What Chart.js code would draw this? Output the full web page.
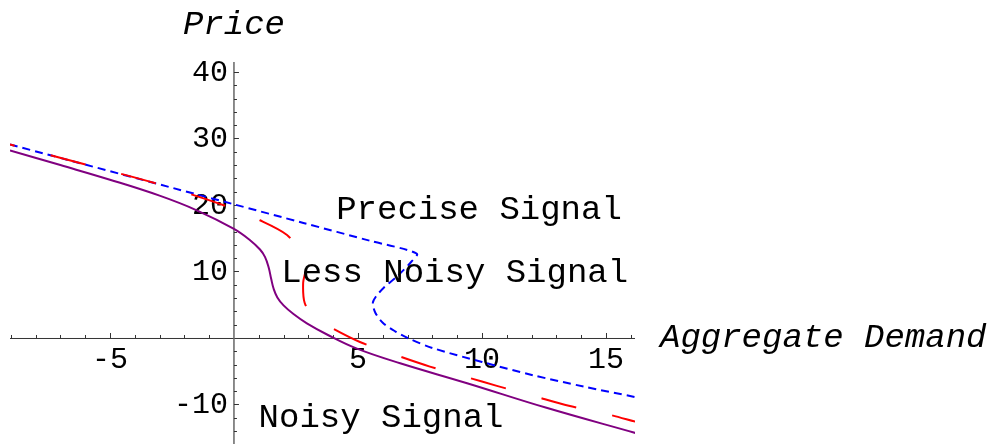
<!DOCTYPE html>
<html>
<head>
<meta charset="utf-8">
<script src="https://cdn.jsdelivr.net/npm/chart.js@4/dist/chart.umd.min.js"></script>
<style>
  body { margin: 0; background: #fff; }
  #wrap { width: 987px; height: 444px; }
</style>
</head>
<body>
<div id="wrap"><canvas id="grafico"></canvas></div>
<script>
// demand (x) and price (y)
const noisyX = [-9.03, -7, -5, -3, -1.5, 0, 0.65, 1.05, 1.25, 1.4, 1.5, 1.6, 1.75, 2.0, 2.4, 2.94, 3.79, 4.96, 6.7, 9.4, 12.6, 16.2];
const noisyY = [28.2, 26.0, 23.8, 21.4, 19.2, 16.4, 14.7, 13.3, 12.2, 10.6, 8.9, 7.4, 6.1, 4.9, 3.6, 2.2, 0.45, -1.6, -3.8, -6.8, -10.5, -14.3];

const lessX = [-9.03, -5.9, -3.2, -0.44, 1.05, 2.14, 2.6, 2.9, 2.79, 2.85, 3.2, 3.95, 5.08, 6.7, 7.9, 9.4, 10.6, 12.06, 13.5, 15.0, 16.2];
const lessY = [29.1, 26.0, 23.3, 20.0, 17.7, 15.5, 13.1, 10.8, 8.3, 5.3, 3.2, 1.5, -0.6, -2.8, -4.3, -5.9, -7.2, -8.7, -10.2, -11.4, -12.6];

const preciseX = [-9.03, 0, 2.8, 5.5, 7.37, 7.16, 6.56, 6.05, 5.72, 5.6, 5.7, 6.0, 6.5, 7.0, 8.0, 10.0, 12.06, 14.1, 16.2];
const preciseY = [29.1, 20.1, 17.3, 14.6, 12.7, 11.5, 9.2, 7.6, 6.2, 5.3, 3.8, 2.3, 1.0, 0.0, -1.5, -3.6, -5.6, -7.3, -8.9];

const xTickLabels = [-5, 5, 10, 15];
const yTickLabels = [-10, 10, 20, 30, 40];

const curveLabels = ['Noisy Signal', 'Less Noisy Signal', 'Precise Signal'];
const labelX = [5.93, 8.9, 9.88];
const labelY = [-12.0, 9.8, 19.25];

function pts(xs, ys) {
    return xs.map(function(x, i) { return { x: x, y: ys[i] }; });
}

const fonte = "'Liberation Mono', 'DejaVu Sans Mono', monospace";

const eixos = {
    id: 'eixos',
    beforeDatasetsDraw: function(chart) {
        const ctx = chart.ctx;
        const sx = chart.scales.x, sy = chart.scales.y;
        const x0 = sx.getPixelForValue(0), y0 = sy.getPixelForValue(0);
        ctx.save();
        // x axis
        ctx.strokeStyle = '#333';
        ctx.lineWidth = 1;
        ctx.beginPath();
        ctx.moveTo(sx.left, y0 + 0.5);
        ctx.lineTo(sx.right, y0 + 0.5);
        ctx.stroke();
        for (let v = -9; v <= 16; v++) {
            if (v === 0) continue;
            const px = Math.round(sx.getPixelForValue(v)) + 0.5;
            const len = v % 5 === 0 ? 5 : 3;
            ctx.beginPath();
            ctx.moveTo(px, y0);
            ctx.lineTo(px, y0 - len);
            ctx.stroke();
        }
        // y axis
        ctx.strokeStyle = '#666';
        ctx.lineWidth = 1.5;
        ctx.beginPath();
        ctx.moveTo(x0, sy.top);
        ctx.lineTo(x0, sy.bottom);
        ctx.stroke();
        ctx.lineWidth = 1;
        ctx.strokeStyle = '#333';
        for (let v = -14; v <= 40; v += 2) {
            if (v === 0) continue;
            const py = Math.round(sy.getPixelForValue(v)) + 0.5;
            const len = v % 10 === 0 ? 5 : 3;
            ctx.beginPath();
            ctx.moveTo(x0, py);
            ctx.lineTo(x0 + len, py);
            ctx.stroke();
        }
        // tick labels
        ctx.fillStyle = '#000';
        ctx.font = '30px ' + fonte;
        ctx.textAlign = 'center';
        ctx.textBaseline = 'middle';
        xTickLabels.forEach(function(v) {
            ctx.fillText(String(v), sx.getPixelForValue(v), y0 + 22);
        });
        ctx.textAlign = 'right';
        yTickLabels.forEach(function(v) {
            ctx.fillText(String(v), x0 - 6, sy.getPixelForValue(v) + 1);
        });
        ctx.restore();
    },
    afterDatasetsDraw: function(chart) {
        const ctx = chart.ctx;
        const sx = chart.scales.x, sy = chart.scales.y;
        ctx.save();
        ctx.fillStyle = '#000';
        ctx.textBaseline = 'middle';
        ctx.textAlign = 'center';
        ctx.font = '34px ' + fonte;
        curveLabels.forEach(function(t, i) {
            ctx.fillText(t, sx.getPixelForValue(labelX[i]), sy.getPixelForValue(labelY[i]));
        });
        ctx.font = 'italic 34px ' + fonte;
        ctx.textAlign = 'left';
        ctx.fillText('Price', sx.getPixelForValue(0) - 51, 25);
        ctx.fillText('Aggregate Demand', sx.right + 25, sy.getPixelForValue(0));
        ctx.restore();
    }
};

const ctx = document.getElementById('grafico').getContext('2d');
const grafico = new Chart(ctx, {
    type: 'scatter',
    data: {
        datasets: [{
            label: curveLabels[0],
            data: pts(noisyX, noisyY),
            borderColor: '#800080',
            borderWidth: 2,
            tension: 0.4
        }, {
            label: curveLabels[1],
            data: pts(lessX, lessY),
            borderColor: '#ff0000',
            borderWidth: 2,
            borderDash: [36, 37],
            borderDashOffset: 31
        }, {
            label: curveLabels[2],
            data: pts(preciseX, preciseY),
            borderColor: '#0000ff',
            borderWidth: 2,
            borderDash: [8, 5]
        }]
    },
    options: {
        responsive: true,
        maintainAspectRatio: false,
        animation: false,
        showLine: true,
        elements: {
            point: { radius: 0, hoverRadius: 0 },
            line: { tension: 0.3, fill: false }
        },
        layout: { padding: { left: 10, right: 352, top: 62, bottom: 0 } },
        scales: {
            x: { type: 'linear', min: -9.03, max: 16.17, display: false },
            y: { type: 'linear', min: -15.94, max: 41.5, display: false }
        },
        plugins: {
            legend: { display: false },
            tooltip: { enabled: false }
        }
    },
    plugins: [eixos]
});
</script>
</body>
</html>
